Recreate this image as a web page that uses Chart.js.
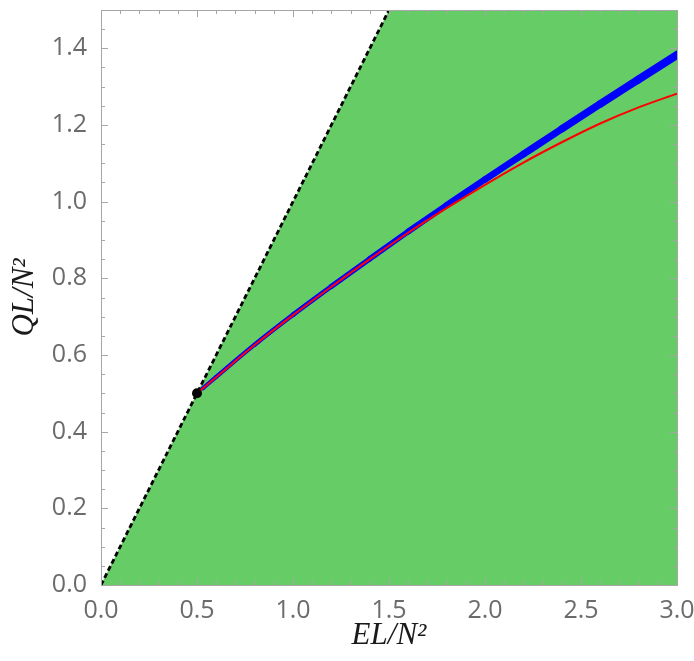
<!DOCTYPE html>
<html>
<head>
<meta charset="utf-8">
<script src="https://cdn.jsdelivr.net/npm/chart.js@4.4.1/dist/chart.umd.min.js"></script>
<style>
  html, body { margin: 0; padding: 0; background: #fff; }
  #wrap { width: 694px; height: 661px; }
</style>
</head>
<body>
<div id="wrap"><canvas id="plot" width="694" height="661"></canvas></div>
<script>
// values
const blueE = [0.53, 0.6, 0.8, 1.0, 1.2, 1.4, 1.6, 1.8, 2.0, 2.2, 2.4, 2.6, 2.8, 3.0];
const blueQ = [0.513, 0.543, 0.627, 0.705, 0.779, 0.851, 0.922, 0.991, 1.058, 1.124, 1.190, 1.255, 1.319, 1.383];
const redE = [0.5, 0.6, 0.8, 1.0, 1.2, 1.4, 1.6, 1.8, 2.0, 2.2, 2.4, 2.6, 2.8, 3.0];
const redQ = [0.5, 0.542, 0.626, 0.704, 0.778, 0.850, 0.919, 0.983, 1.044, 1.102, 1.155, 1.204, 1.246, 1.282];
const boundE = [0, 3];
const boundQ = [0, 3];
const pointE = [0.5];
const pointQ = [0.5];
const xTicks = [0, 0.5, 1.0, 1.5, 2.0, 2.5, 3.0];
const yTicks = [0, 0.2, 0.4, 0.6, 0.8, 1.0, 1.2, 1.4];

const green = 'rgb(102,204,102)';
const frameColor = '#a6a6a6';

function pts(xs, ys) {
  return xs.map((x, i) => ({ x: x, y: ys[i] }));
}

// frame plus inward major/minor ticks on all four sides
const framePlugin = {
  id: 'frame',
  afterDatasetsDraw(chart) {
    const ctx = chart.ctx;
    const a = chart.chartArea;
    const xs = chart.scales.x, ys = chart.scales.y;
    ctx.save();
    ctx.strokeStyle = frameColor;
    ctx.lineWidth = 1;
    for (let i = 0; i <= 30; i++) {
      const v = i / 10;
      const px = Math.round(xs.getPixelForValue(v)) + 0.5;
      const len = i % 5 === 0 ? 7 : 4;
      ctx.beginPath();
      ctx.moveTo(px, a.bottom); ctx.lineTo(px, a.bottom - len);
      ctx.moveTo(px, a.top); ctx.lineTo(px, a.top + len);
      ctx.stroke();
    }
    for (let i = 0; i <= 30; i++) {
      const v = i * 0.05;
      const py = Math.round(ys.getPixelForValue(v)) + 0.5;
      const len = i % 4 === 0 ? 7 : 4;
      ctx.beginPath();
      ctx.moveTo(a.left, py); ctx.lineTo(a.left + len, py);
      ctx.moveTo(a.right, py); ctx.lineTo(a.right - len, py);
      ctx.stroke();
    }
    ctx.strokeRect(Math.round(a.left) + 0.5, Math.round(a.top) + 0.5,
      Math.round(a.right - a.left), Math.round(a.bottom - a.top));
    ctx.restore();
  }
};

const tickFont = { family: 'Open Sans', size: 25 };
const titleFont = { family: 'Liberation Serif', style: 'italic', size: 31 };

new Chart(document.getElementById('plot'), {
  type: 'line',
  data: {
    datasets: [
      {
        data: pts(boundE, boundQ),
        fill: 'start',
        backgroundColor: green,
        borderWidth: 0,
        pointRadius: 0,
        order: 5
      },
      {
        data: pts(boundE, boundQ),
        fill: false,
        borderColor: '#000',
        borderWidth: 2.8,
        borderDash: [5, 3],
        pointRadius: 0,
        order: 4
      },
      {
        data: pts(blueE, blueQ),
        fill: false,
        borderColor: 'rgb(0,0,255)',
        borderCapStyle: 'round',
        borderJoinStyle: 'round',
        cubicInterpolationMode: 'monotone',
        pointRadius: 0,
        segment: {
          borderWidth: c => 4 + 4.5 * (c.p0.parsed.x - 0.5) / 2.5
        },
        order: 3
      },
      {
        data: pts(redE, redQ),
        fill: false,
        borderColor: 'rgb(255,0,0)',
        borderWidth: 2,
        cubicInterpolationMode: 'monotone',
        pointRadius: 0,
        order: 2
      },
      {
        data: pts(pointE, pointQ),
        showLine: false,
        pointRadius: 5,
        pointBackgroundColor: '#000',
        pointBorderWidth: 0,
        order: 1
      }
    ]
  },
  options: {
    responsive: false,
    animation: false,
    layout: { padding: { top: 10, right: 17, left: 0, bottom: 0 } },
    plugins: { legend: { display: false }, tooltip: { enabled: false } },
    scales: {
      x: {
        type: 'linear',
        min: 0, max: 3,
        grid: { display: false },
        border: { display: false },
        afterBuildTicks: s => { s.ticks = xTicks.map(v => ({ value: v })); },
        afterFit: s => { s.height = 76; s.paddingLeft = 0; s.paddingRight = 0; },
        ticks: { font: tickFont, color: '#6b6b6b', padding: 3, maxRotation: 0, callback: v => v.toFixed(1) },
        title: { display: true, text: 'EL/N²', font: titleFont, color: '#1a1a1a', padding: { top: 0, bottom: 7 } }
      },
      y: {
        type: 'linear',
        min: 0, max: 1.5,
        grid: { display: false },
        border: { display: false },
        afterBuildTicks: s => { s.ticks = yTicks.map(v => ({ value: v })); },
        afterFit: s => { s.width = 101; s.paddingTop = 0; s.paddingBottom = 0; },
        ticks: { font: tickFont, color: '#6b6b6b', padding: 6, callback: v => v.toFixed(1) },
        title: { display: true, text: 'QL/N²', font: titleFont, color: '#1a1a1a', padding: { top: 6, bottom: 0 } }
      }
    }
  },
  plugins: [framePlugin]
});
</script>
</body>
</html>
